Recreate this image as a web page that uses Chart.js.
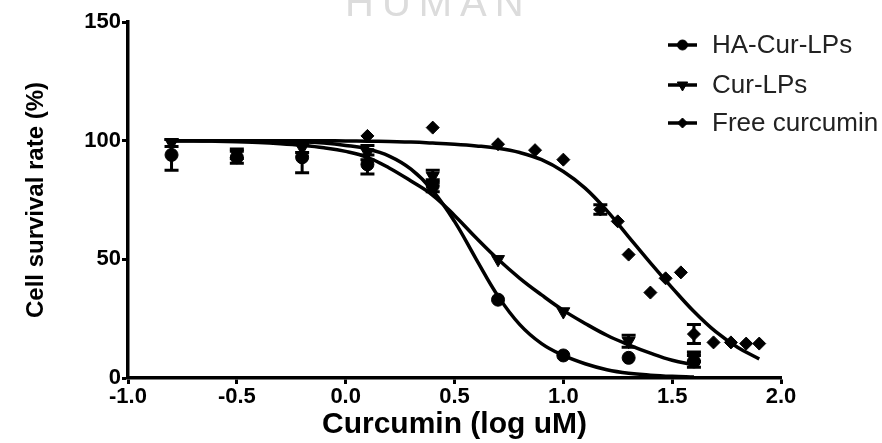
<!DOCTYPE html>
<html>
<head>
<meta charset="utf-8">
<script src="https://cdn.jsdelivr.net/npm/chart.js@4.4.1/dist/chart.umd.min.js"></script>
<style>
  html, body { margin: 0; padding: 0; background: #fff; }
  canvas { display: block; }
</style>
</head>
<body>
<canvas id="chart" width="882" height="443"></canvas>
<script>
// axis ticks
const xTicks = [-1.0, -0.5, 0.0, 0.5, 1.0, 1.5, 2.0];
const yTicks = [0, 50, 100, 150];

const seriesNames = ["HA-Cur-LPs", "Cur-LPs", "Free curcumin"];

// measured points: dose (log uM), survival (%), error (+/-)
const haDose = [-0.8, -0.5, -0.2, 0.1, 0.4, 0.7, 1.0, 1.3, 1.6];
const haSurv = [94, 93, 93, 90, 81, 33, 9.5, 8.5, 7];
const haErr = [6.5, 2.5, 6.5, 4, 2.5, 0, 0, 0, 2.5];

const curDose = [-0.8, -0.5, -0.2, 0.1, 0.4, 0.7, 1.0, 1.3, 1.6];
const curSurv = [99, 94.5, 97, 95, 85, 50, 28, 15.5, 9];
const curErr = [1.5, 2, 2, 3, 2.5, 0, 0, 2.5, 2];

const freeDose = [0.1, 0.4, 0.7, 0.87, 1.0, 1.17, 1.25, 1.3, 1.4, 1.47, 1.54, 1.6, 1.69, 1.77, 1.84, 1.9];
const freeSurv = [102, 105.5, 98.5, 96, 92, 71, 66, 52, 36, 42, 44.5, 18.5, 15, 15, 14.5, 14.5];
const freeErr = [0, 0, 0, 0, 0, 2, 0, 0, 0, 0, 0, 4, 0, 0, 0, 0];

// fitted curves, every 0.1 log unit
const fitDose = [-0.8, -0.7, -0.6, -0.5, -0.4, -0.3, -0.2, -0.1, 0.0, 0.1, 0.2, 0.3,
  0.4, 0.5, 0.6, 0.7, 0.8, 0.9, 1.0, 1.1, 1.2, 1.3, 1.4, 1.5, 1.6];
const haFit = [100, 100, 100, 100, 100, 99.8, 99.5, 99, 98, 96.5, 93.5, 88,
  79, 66, 50, 34.5, 22.5, 14.5, 9.5, 6, 3.5, 2, 1.2, 0.7, 0.4];
const curFit = [100, 100, 99.8, 99.5, 99.2, 98.7, 98, 97, 95.5, 93, 88.5, 83,
  77, 68.5, 59, 50, 42, 35, 28.5, 23, 18, 14, 10.5, 7.5, 5.5];

const freeFitDose = [-0.8, -0.7, -0.6, -0.5, -0.4, -0.3, -0.2, -0.1, 0.0, 0.1, 0.2, 0.3,
  0.4, 0.5, 0.6, 0.7, 0.8, 0.9, 1.0, 1.1, 1.2, 1.3, 1.4, 1.5, 1.6, 1.7, 1.8, 1.9];
const freeFit = [100, 100, 100, 100, 100, 100, 100, 100, 99.9, 99.8, 99.6, 99.4,
  99, 98.5, 97.8, 96.8, 95, 92, 87, 80, 70.5, 59.5, 48.5, 38, 28, 19.5, 13, 8];

const pts = (xs, ys) => xs.map((x, i) => ({ x: x, y: ys[i] }));

const fitLine = (xs, ys) => ({
  type: "line",
  data: pts(xs, ys),
  borderColor: "#000",
  borderWidth: 3.5,
  pointRadius: 0,
  tension: 0.4,
  fill: false,
});

const markerSets = [
  { pointStyle: "circle", radius: 6.5, rotation: 0 },
  { pointStyle: "triangle", radius: 7.5, rotation: 180 },
  { pointStyle: "rectRot", radius: 6.5, rotation: 0 },
];

const markers = (xs, ys, errs, m, name) => ({
  type: "scatter",
  label: name,
  data: pts(xs, ys),
  errors: errs,
  showLine: false,
  pointStyle: m.pointStyle,
  pointRadius: m.radius,
  pointRotation: m.rotation,
  backgroundColor: "#000",
  borderColor: "#000",
  borderWidth: 1,
});

const errorBars = {
  id: "errorBars",
  afterDatasetsDraw(chart) {
    const { ctx, scales: { x, y } } = chart;
    ctx.save();
    ctx.strokeStyle = "#000";
    ctx.lineWidth = 3;
    chart.data.datasets.forEach((ds) => {
      if (!ds.errors) return;
      ds.data.forEach((p, i) => {
        const e = ds.errors[i];
        if (!e) return;
        const px = x.getPixelForValue(p.x);
        const top = y.getPixelForValue(p.y + e);
        const bot = y.getPixelForValue(p.y - e);
        ctx.beginPath();
        ctx.moveTo(px, top); ctx.lineTo(px, bot);
        ctx.moveTo(px - 7, top); ctx.lineTo(px + 7, top);
        ctx.moveTo(px - 7, bot); ctx.lineTo(px + 7, bot);
        ctx.stroke();
      });
    });
    ctx.restore();
  },
};

// legend sits over the top right of the plot
const sideLegend = {
  id: "sideLegend",
  afterDraw(chart) {
    const ctx = chart.ctx;
    const rows = [45, 85, 123];
    ctx.save();
    seriesNames.forEach((name, i) => {
      const y = rows[i];
      ctx.strokeStyle = "#000";
      ctx.fillStyle = "#000";
      ctx.lineWidth = 3.5;
      ctx.beginPath();
      ctx.moveTo(668, y);
      ctx.lineTo(697, y);
      ctx.stroke();
      ctx.lineWidth = 1;
      Chart.helpers.drawPoint(ctx, {
        pointStyle: markerSets[i].pointStyle,
        radius: markerSets[i].radius - 1.5,
        rotation: markerSets[i].rotation,
        borderWidth: 1,
      }, 682.5, y);
      ctx.fillStyle = "#222";
      ctx.font = "26px 'Liberation Sans'";
      ctx.textAlign = "left";
      ctx.textBaseline = "middle";
      ctx.fillText(name, 712, y + 1);
    });
    ctx.restore();
  },
};

// faint watermark cut off at the top edge
const watermark = {
  id: "watermark",
  beforeDraw(chart) {
    const ctx = chart.ctx;
    ctx.save();
    ctx.fillStyle = "#dcdcdc";
    ctx.font = "40px 'Liberation Sans'";
    ctx.letterSpacing = "8px";
    ctx.textAlign = "left";
    ctx.textBaseline = "alphabetic";
    ctx.fillText("HUMAN", 345, 16);
    ctx.restore();
  },
};

const tickFont = { family: "Liberation Sans", weight: "bold", size: 22 };

new Chart(document.getElementById("chart"), {
  type: "scatter",
  data: {
    datasets: [
      markers(haDose, haSurv, haErr, markerSets[0], seriesNames[0]),
      markers(curDose, curSurv, curErr, markerSets[1], seriesNames[1]),
      markers(freeDose, freeSurv, freeErr, markerSets[2], seriesNames[2]),
      fitLine(fitDose, haFit),
      fitLine(fitDose, curFit),
      fitLine(freeFitDose, freeFit),
    ],
  },
  options: {
    responsive: false,
    animation: false,
    devicePixelRatio: 1,
    layout: { padding: { left: 0, right: 101, top: 22, bottom: 0 } },
    scales: {
      x: {
        type: "linear",
        min: -1,
        max: 2,
        afterBuildTicks: (s) => { s.ticks = xTicks.map((v) => ({ value: v })); },
        afterFit: (s) => { s.height = 65; },
        ticks: {
          font: tickFont,
          color: "#000",
          padding: 0,
          maxRotation: 0,
          callback: (v) => Number(v).toFixed(1),
        },
        grid: { drawOnChartArea: false, drawTicks: true, tickLength: 6, tickWidth: 3, tickColor: "#000" },
        border: { display: true, color: "#000", width: 3.5 },
        title: {
          display: true,
          text: "Curcumin (log uM)",
          color: "#000",
          font: { family: "Liberation Sans", weight: "bold", size: 30 },
          padding: { top: 0, bottom: 0 },
        },
      },
      y: {
        type: "linear",
        min: 0,
        max: 150,
        afterBuildTicks: (s) => { s.ticks = yTicks.map((v) => ({ value: v })); },
        afterFit: (s) => { s.width = 128; },
        ticks: {
          font: tickFont,
          color: "#000",
          padding: 1,
          callback: (v) => String(v),
        },
        grid: { drawOnChartArea: false, drawTicks: true, tickLength: 6, tickWidth: 3, tickColor: "#000" },
        border: { display: true, color: "#000", width: 3.5 },
        title: {
          display: true,
          text: "Cell survival rate (%)",
          color: "#000",
          font: { family: "Liberation Sans", weight: "bold", size: 24 },
          padding: { top: 22, bottom: 0 },
        },
      },
    },
    plugins: {
      legend: { display: false },
      tooltip: { enabled: false },
    },
  },
  plugins: [watermark, errorBars, sideLegend],
});
</script>
</body>
</html>
